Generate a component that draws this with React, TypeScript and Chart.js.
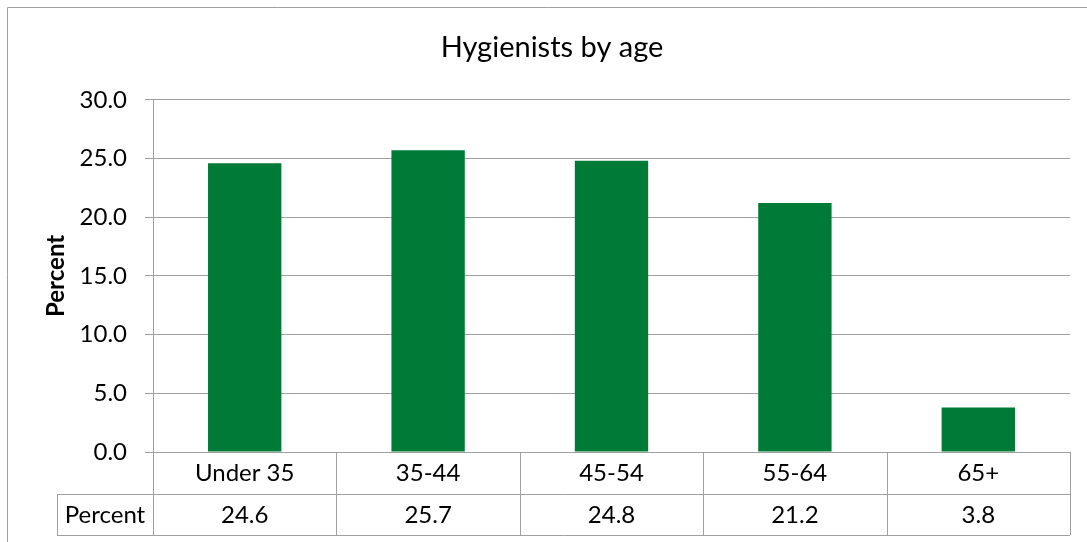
import React, { useEffect, useRef } from "react";
import { Chart, registerables } from "chart.js";

Chart.register(...registerables);

const categories = ["Under 35", "35-44", "45-54", "55-64", "65+"];
const percentValues = [24.6, 25.7, 24.8, 21.2, 3.8];
const seriesName = "Percent";
const chartTitle = "Hygienists by age";
const yAxisTitle = "Percent";
const yMin = 0;
const yMax = 30;
const yStep = 5;

const FONT = "Lato";
const GRID = "#A0A0A0";
const BAR = "#007A37";

const tablePlugin = {
  id: "dataTable",
  afterDraw(chart: any) {
    const ctx = chart.ctx;
    const xs = chart.scales.x;
    const area = chart.chartArea;
    const top = area.bottom;
    const rowH = 41.5;
    const row2 = top + rowH;
    const bottom = top + rowH * 2;
    const leftCell = 57;
    ctx.save();
    ctx.strokeStyle = GRID;
    ctx.lineWidth = 1;
    // outer chart border (top and left)
    ctx.beginPath();
    ctx.moveTo(7.5, chart.height);
    ctx.lineTo(7.5, 7.5);
    ctx.lineTo(chart.width, 7.5);
    ctx.stroke();
    // vertical separators
    ctx.beginPath();
    for (let i = 0; i <= categories.length; i++) {
      const x = Math.round(xs.getPixelForValue(i - 0.5)) + 0.5;
      ctx.moveTo(x, top);
      ctx.lineTo(x, bottom);
    }
    ctx.moveTo(leftCell + 0.5, Math.round(row2) + 0.5);
    ctx.lineTo(leftCell + 0.5, Math.round(bottom) + 0.5);
    ctx.moveTo(leftCell, Math.round(row2) + 0.5);
    ctx.lineTo(area.right, Math.round(row2) + 0.5);
    ctx.moveTo(leftCell, Math.round(bottom) + 0.5);
    ctx.lineTo(area.right, Math.round(bottom) + 0.5);
    ctx.stroke();
    // texts
    ctx.fillStyle = "#000";
    ctx.font = `24px ${FONT}`;
    ctx.textAlign = "center";
    ctx.textBaseline = "middle";
    const ty = row2 + rowH / 2 + 1;
    ctx.fillText(seriesName, (leftCell + area.left) / 2, ty);
    percentValues.forEach((v, i) => {
      ctx.fillText(v.toFixed(1), xs.getPixelForValue(i), ty);
    });
    ctx.restore();
  },
};

export default function App() {
  const ref = useRef<HTMLCanvasElement>(null);
  useEffect(() => {
    if (!ref.current) return;
    const chart = new Chart(ref.current, {
      type: "bar",
      data: {
        labels: categories,
        datasets: [
          {
            label: seriesName,
            data: percentValues,
            backgroundColor: BAR,
            borderWidth: 0,
            categoryPercentage: 1,
            barPercentage: 0.4,
          },
        ],
      },
      options: {
        responsive: false,
        animation: false,
        layout: { padding: { left: 34, right: 17, top: 0, bottom: 0 } },
        plugins: {
          legend: { display: false },
          tooltip: { enabled: false },
          title: {
            display: true,
            text: chartTitle,
            color: "#000",
            font: { family: FONT, size: 29, weight: "normal" },
            padding: { top: 30, bottom: 35 },
          },
        },
        scales: {
          x: {
            afterFit(scale: any) {
              scale.height = 90;
            },
            grid: { display: false, drawTicks: false },
            border: { display: false },
            ticks: {
              color: "#000",
              font: { family: FONT, size: 24 },
              padding: 7,
              maxRotation: 0,
              autoSkip: false,
            },
          },
          y: {
            min: yMin,
            max: yMax,
            afterFit(scale: any) {
              scale.width = 119;
            },
            ticks: {
              stepSize: yStep,
              color: "#000",
              font: { family: FONT, size: 24 },
              padding: 18,
              callback: (v: any) => Number(v).toFixed(1),
            },
            grid: { color: GRID, lineWidth: 1, tickLength: 8 },
            border: { display: true, color: GRID, width: 1 },
            title: {
              display: true,
              text: yAxisTitle,
              color: "#000",
              font: { family: FONT, size: 24, weight: "bold" },
              padding: { top: 8, bottom: 0 },
            },
          },
        },
      },
      plugins: [tablePlugin],
    });
    return () => chart.destroy();
  }, []);
  return (
    <div style={{ position: "absolute", left: 0, top: 0, width: 1087, height: 542 }}>
      <canvas ref={ref} width={1087} height={542} />
    </div>
  );
}
